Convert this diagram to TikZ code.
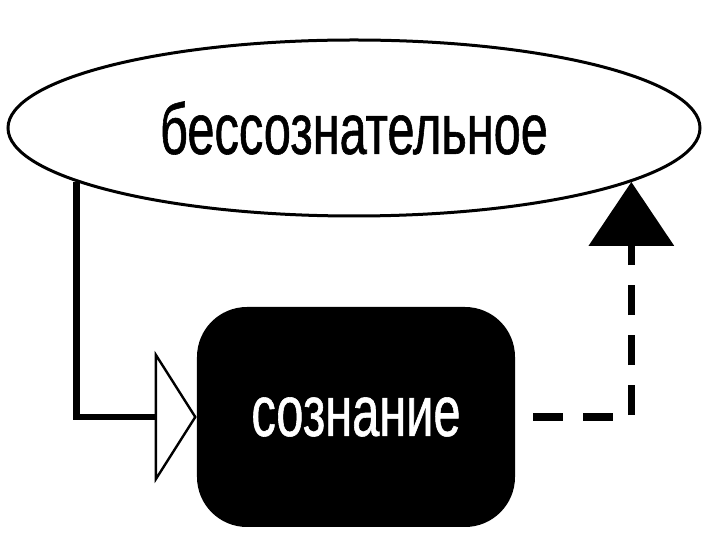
\documentclass[tikz,border=0pt]{standalone}
\usepackage{fontspec}
\newfontfamily\narrowfont{Liberation Sans}[FakeStretch=0.68,FakeBold=0.8]
\usetikzlibrary{arrows.meta,shapes.geometric}
\begin{document}
\begin{tikzpicture}[x=0.25mm,y=0.25mm,
    bigtext/.style={font=\narrowfont\fontsize{51}{60}\selectfont},
    ovalbox/.style={ellipse, draw, line width=0.75mm, inner sep=0pt, minimum width=173mm, minimum height=44mm, bigtext},
    roundbox/.style={rectangle, fill=black, text=white, rounded corners=12.5mm, minimum width=79.5mm, minimum height=55mm, bigtext}]
    \useasboundingbox (0,0) rectangle (720,540);
    %Knoten
    \node[ovalbox]  (unc) at (354,412) {бессознательное};
    \node[roundbox] (con) at (356,123) {сознание};
    %Verbindungen
    \draw[line width=1.6mm, -{Triangle[open, length=10.5mm, width=33mm, line width=0.6mm]}]
        (unc.191) |- (con.west);
    \draw[line width=1.8mm, dash pattern=on 7.5mm off 5mm, shorten <=4.5mm, -{Triangle[length=16mm, width=21mm]}]
        (con.east) -| (unc.349.4);
\end{tikzpicture}
\end{document}
